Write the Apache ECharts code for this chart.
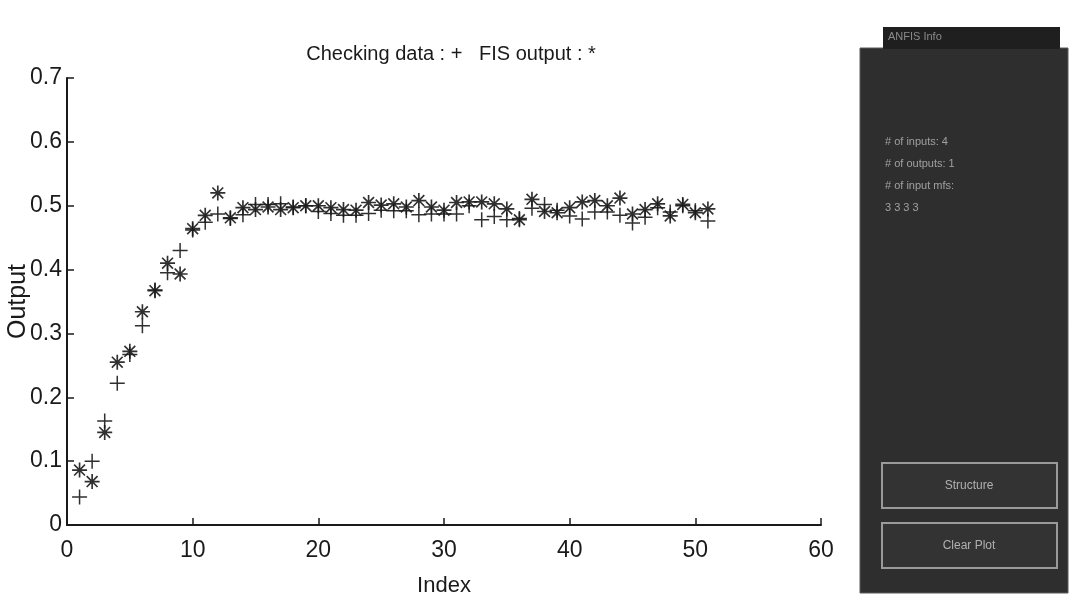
<!DOCTYPE html>
<html>
<head>
<meta charset="utf-8">
<script src="https://cdn.jsdelivr.net/npm/echarts@6/dist/echarts.min.js"></script>
<style>
html,body{margin:0;padding:0;background:#fff;}
#c{width:1072px;height:603px;}
</style>
</head>
<body>
<div id="c"></div>
<script>
// ---- data ----
const indexValues = [1,2,3,4,5,6,7,8,9,10,11,12,13,14,15,16,17,18,19,20,21,22,23,24,25,26,27,28,29,30,31,32,33,34,35,36,37,38,39,40,41,42,43,44,45,46,47,48,49,50,51];
const checkingData = [0.044,0.100,0.163,0.222,0.267,0.312,0.368,0.395,0.430,0.462,0.474,0.487,0.480,0.486,0.502,0.502,0.503,0.498,0.500,0.491,0.488,0.485,0.485,0.488,0.493,0.492,0.492,0.486,0.487,0.487,0.487,0.500,0.478,0.483,0.478,0.480,0.496,0.502,0.493,0.484,0.479,0.490,0.490,0.485,0.473,0.482,0.497,0.490,0.500,0.492,0.476];
const fisOutput = [0.086,0.068,0.145,0.255,0.272,0.334,0.367,0.410,0.393,0.464,0.485,0.520,0.481,0.497,0.494,0.498,0.494,0.497,0.500,0.500,0.497,0.494,0.493,0.505,0.501,0.503,0.498,0.508,0.498,0.493,0.505,0.506,0.506,0.503,0.495,0.478,0.510,0.491,0.489,0.497,0.506,0.508,0.500,0.512,0.487,0.494,0.503,0.484,0.502,0.489,0.495];
const titleText = 'Checking data : +   FIS output : *';
const xAxisName = 'Index';
const yAxisName = 'Output';
const panelTab = 'ANFIS Info';
const panelLines = ['# of inputs: 4', '# of outputs: 1', '# of input mfs:', '3 3 3 3'];
const buttonLabels = ['Structure', 'Clear Plot'];

const FONT = "'Liberation Sans',Arial,sans-serif";
const plusPath = 'path://M9,0 L11,0 L11,9 L20,9 L20,11 L11,11 L11,20 L9,20 L9,11 L0,11 L0,9 L9,9 Z';
const starPath = 'path://M1,9 L19,9 L19,11 L1,11 Z M9,1 L11,1 L11,19 L9,19 Z M4.2,2.8 L17.2,15.8 L15.8,17.2 L2.8,4.2 Z M15.8,2.8 L17.2,4.2 L4.2,17.2 L2.8,15.8 Z';

const chart = echarts.init(document.getElementById('c'), null, {renderer:'canvas'});
const ink = '#1a1a1a';

const panelGraphics = [
  {type:'rect', shape:{x:860,y:48,width:208,height:545}, style:{fill:'#2e2e2e', stroke:'#5a5a5a', lineWidth:1}},
  {type:'rect', shape:{x:883,y:27,width:177,height:22}, style:{fill:'#1f1f1f'}},
  {type:'text', style:{x:888,y:31,text:panelTab, fill:'#8a8a8a', font:"11px " + FONT}},
  {type:'rect', shape:{x:882,y:463,width:175,height:45}, style:{fill:'#333', stroke:'#9a9a9a', lineWidth:2}},
  {type:'rect', shape:{x:882,y:523,width:175,height:45}, style:{fill:'#333', stroke:'#9a9a9a', lineWidth:2}},
  {type:'text', style:{x:969,y:486,text:buttonLabels[0], fill:'#b0b0b0', font:"12px " + FONT, textAlign:'center', textVerticalAlign:'middle'}},
  {type:'text', style:{x:969,y:546,text:buttonLabels[1], fill:'#b0b0b0', font:"12px " + FONT, textAlign:'center', textVerticalAlign:'middle'}}
];
panelLines.forEach((t,i)=>{
  panelGraphics.push({type:'text', style:{x:885,y:136+i*22,text:t, fill:'#a0a0a0', font:"11px " + FONT}});
});

chart.setOption({
  animation:false,
  backgroundColor:'#fff',
  title:{text:titleText, left:446, top:39, textAlign:'center',
    textStyle:{fontFamily:FONT, fontSize:20, fontWeight:'normal', color:ink}},
  grid:{left:67, right:251, top:78, bottom:78, containLabel:false, outerBoundsMode:'none'},
  xAxis:{type:'value', min:0, max:60, interval:10,
    name:xAxisName, nameLocation:'middle', nameGap:50, nameMoveOverlap:false,
    nameTextStyle:{fontFamily:FONT, fontSize:22, color:ink},
    axisLine:{show:true, lineStyle:{color:ink, width:2}},
    axisTick:{show:true, inside:true, length:7, lineStyle:{color:ink, width:1.5}},
    axisLabel:{fontFamily:FONT, fontSize:23, color:ink, margin:14},
    splitLine:{show:false}},
  yAxis:{type:'value', min:0, max:0.7, interval:0.1,
    name:yAxisName, nameLocation:'middle', nameGap:36, nameRotate:90, nameMoveOverlap:false,
    nameTextStyle:{fontFamily:FONT, fontSize:25, color:ink},
    axisLine:{show:true, lineStyle:{color:ink, width:2}},
    axisTick:{show:true, inside:true, length:7, lineStyle:{color:ink, width:1.5}},
    axisLabel:{fontFamily:FONT, fontSize:23, color:ink, margin:5},
    splitLine:{show:false}},
  series:[
    {name:'Checking data', type:'scatter', symbol:plusPath, symbolSize:15,
      itemStyle:{color:ink, opacity:0.9},
      data:indexValues.map((x,i)=>[x, checkingData[i]])},
    {name:'FIS output', type:'scatter', symbol:starPath, symbolSize:15,
      itemStyle:{color:ink, opacity:0.9},
      data:indexValues.map((x,i)=>[x, fisOutput[i]])}
  ],
  graphic:panelGraphics
});
</script>
</body>
</html>
